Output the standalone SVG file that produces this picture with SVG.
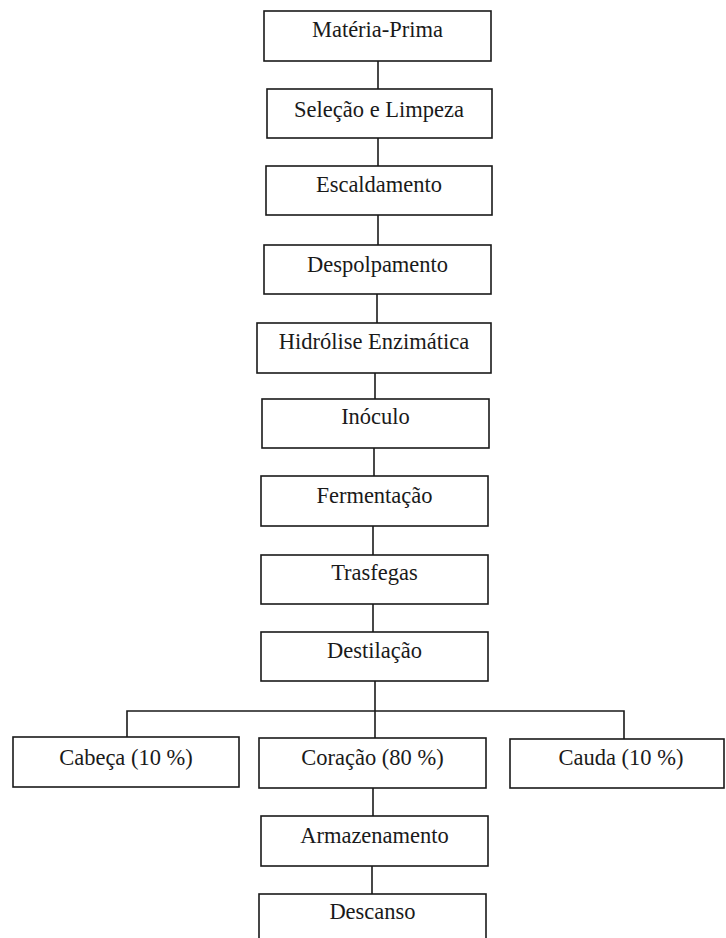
<svg xmlns="http://www.w3.org/2000/svg" width="726" height="938" viewBox="0 0 726 938">
<style>
.box{fill:#fff;stroke:#1a1a1a;stroke-width:1.6}
.lbl{font-family:"Liberation Serif","Times New Roman",serif;font-size:22.5px;fill:#1a1a1a;text-anchor:middle}
.con{fill:none;stroke:#1a1a1a;stroke-width:1.6}
</style>
<rect width="726" height="938" fill="#fff"/>
<g id="connectors">
<line class="con" x1="378" y1="61" x2="378" y2="89"/>
<line class="con" x1="378" y1="138" x2="378" y2="166"/>
<line class="con" x1="378" y1="215" x2="378" y2="245"/>
<line class="con" x1="377" y1="294" x2="377" y2="323"/>
<line class="con" x1="375" y1="373" x2="375" y2="399"/>
<line class="con" x1="374" y1="448" x2="374" y2="476"/>
<line class="con" x1="373" y1="526" x2="373" y2="555"/>
<line class="con" x1="373" y1="604" x2="373" y2="632"/>
<line class="con" x1="375" y1="681" x2="375" y2="738"/>
<polyline class="con" points="127,737 127,711 624,711 624,739"/>
<line class="con" x1="373" y1="788" x2="373" y2="816"/>
<line class="con" x1="372" y1="866" x2="372" y2="894"/>
</g>
<g id="n1"><rect class="box" x="264" y="11" width="227" height="50"/><text class="lbl" x="377.5" y="37">Matéria-Prima</text></g>
<g id="n2"><rect class="box" x="267" y="89" width="225" height="49"/><text class="lbl" x="379" y="117">Seleção e Limpeza</text></g>
<g id="n3"><rect class="box" x="266" y="166" width="226" height="49"/><text class="lbl" x="379" y="192">Escaldamento</text></g>
<g id="n4"><rect class="box" x="264" y="245" width="227" height="49"/><text class="lbl" x="377.5" y="272">Despolpamento</text></g>
<g id="n5"><rect class="box" x="257" y="323" width="234" height="50"/><text class="lbl" x="374" y="349">Hidrólise Enzimática</text></g>
<g id="n6"><rect class="box" x="262" y="399" width="227" height="49"/><text class="lbl" x="375.5" y="424">Inóculo</text></g>
<g id="n7"><rect class="box" x="261" y="476" width="227" height="50"/><text class="lbl" x="374.5" y="503">Fermentação</text></g>
<g id="n8"><rect class="box" x="261" y="555" width="227" height="49"/><text class="lbl" x="374.5" y="580">Trasfegas</text></g>
<g id="n9"><rect class="box" x="261" y="632" width="227" height="49"/><text class="lbl" x="374.5" y="658">Destilação</text></g>
<g id="n10"><rect class="box" x="13" y="737" width="226" height="50"/><text class="lbl" x="126" y="765">Cabeça (10 %)</text></g>
<g id="n11"><rect class="box" x="259" y="738" width="227" height="50"/><text class="lbl" x="372.5" y="765">Coração (80 %)</text></g>
<g id="n12"><rect class="box" x="510" y="739" width="214" height="49"/><text class="lbl" x="621" y="765">Cauda (10 %)</text></g>
<g id="n13"><rect class="box" x="261" y="816" width="227" height="50"/><text class="lbl" x="374.5" y="843">Armazenamento</text></g>
<g id="n14"><rect class="box" x="259" y="894" width="227" height="60"/><text class="lbl" x="372.5" y="919">Descanso</text></g>
</svg>
